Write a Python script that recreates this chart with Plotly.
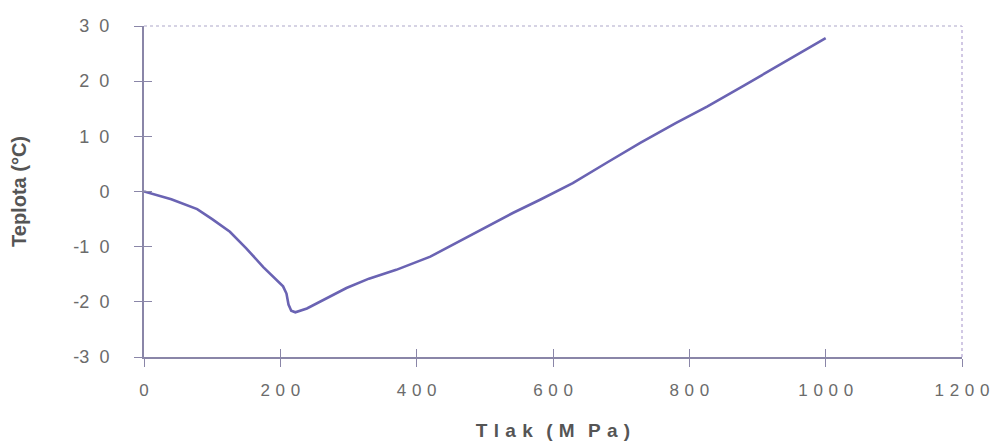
import plotly.graph_objects as go

# Data
pressure_mpa = [0, 40, 78, 100, 126, 150, 175, 195, 204, 209, 212, 216, 222, 239,
                270, 297, 330, 370, 420, 460, 493, 541, 581, 605, 629, 680, 728,
                780, 826, 880, 923, 1000]
temperature_c = [0, -1.4, -3.2, -5.0, -7.3, -10.3, -13.7, -16.2, -17.2, -18.5, -20.5,
                 -21.6, -21.9, -21.2, -19.3, -17.5, -15.8, -14.2, -11.8, -9.2, -7.0,
                 -3.9, -1.5, 0.0, 1.5, 5.3, 8.8, 12.4, 15.4, 19.2, 22.3, 27.8]

x_tick_vals = [0, 200, 400, 600, 800, 1000, 1200]
x_tick_text = ["0", "2 0 0", "4 0 0", "6 0 0", "8 0 0", "1 0 0 0", "1 2 0 0"]
y_tick_vals = [-30, -20, -10, 0, 10, 20, 30]
y_tick_text = ["-3 0", "-2 0", "-1 0", "0", "1 0", "2 0", "3 0"]
# mimic the letter-spaced digits of the original with wide unicode spaces
x_tick_text = [t.replace(" ", "\u2004") for t in x_tick_text]
y_tick_text = [t.replace(" ", "\u2007") for t in y_tick_text]

G = "\u2004"        # three-per-em space between letters
W = "\u2002\u2009"  # wider gap between words
x_title = "T" + G + "l" + G + "a" + G + "k" + W + "(" + G + "M" + W + "P" + G + "a" + G + ")"
y_title = "Teplota (°C)"

line_col = "#6a63b3"
axis_col = "#8a86a8"
label_col = "#6b6b6b"
title_col = "#555555"

fig = go.Figure()
fig.add_trace(go.Scatter(x=pressure_mpa, y=temperature_c, mode="lines",
                         line=dict(color=line_col, width=2.6),
                         showlegend=False, hoverinfo="x+y"))
# helper trace so the overlay axes (inside half of the crossing ticks) are drawn
fig.add_trace(go.Scatter(x=pressure_mpa, y=temperature_c, mode="markers",
                         xaxis="x2", yaxis="y2", marker=dict(opacity=0, size=1),
                         showlegend=False, hoverinfo="skip"))

font_family = "Liberation Sans, Arial, sans-serif"

fig.update_layout(
    width=994, height=445,
    margin=dict(l=144, r=32, t=26, b=88, autoexpand=False),
    paper_bgcolor="white", plot_bgcolor="white",
    xaxis=dict(range=[0, 1200], tickvals=x_tick_vals, ticktext=x_tick_text,
               ticks="outside", ticklen=8, tickwidth=1.2, tickcolor=axis_col,
               showline=True, linecolor=axis_col, linewidth=2,
               showgrid=False, zeroline=False,
               tickfont=dict(family=font_family, size=17, color=label_col),
               ticklabelstandoff=9, ticklabeloverflow="allow",
               title=dict(text=x_title, standoff=24,
                          font=dict(family=font_family, size=19, color=title_col,
                                    weight="bold"))),
    yaxis=dict(range=[-30, 30], tickvals=y_tick_vals, ticktext=y_tick_text,
               ticks="outside", ticklen=8, tickwidth=1.2, tickcolor=axis_col,
               showline=True, linecolor=axis_col, linewidth=2,
               showgrid=False, zeroline=False,
               tickfont=dict(family=font_family, size=18, color=label_col),
               ticklabelstandoff=21, ticklabeloverflow="allow",
               title=dict(text=y_title, standoff=41,
                          font=dict(family=font_family, size=20, color=title_col,
                                    weight="bold"))),
    xaxis2=dict(range=[0, 1200], tickvals=x_tick_vals, overlaying="x",
                anchor="y2", side="bottom",
                ticks="inside", ticklen=8, tickwidth=1.2, tickcolor=axis_col,
                showticklabels=False, showgrid=False, zeroline=False, showline=False),
    yaxis2=dict(range=[-30, 30], tickvals=y_tick_vals, overlaying="y",
                anchor="x2", side="left",
                ticks="inside", ticklen=8, tickwidth=1.2, tickcolor=axis_col,
                showticklabels=False, showgrid=False, zeroline=False, showline=False),
    shapes=[
        dict(type="line", xref="x domain", yref="y domain", x0=0, x1=1, y0=1, y1=1,
             line=dict(color="#c9c5dc", width=1.5, dash="dot"), layer="below"),
        dict(type="line", xref="x domain", yref="y domain", x0=1, x1=1, y0=0, y1=1,
             line=dict(color="#c2b6dc", width=1.5, dash="dot"), layer="below"),
    ],
)

# remove the browser's default 8px page margin so the 994x445 figure fills the window
page_fix = "document.body.style.margin='0';document.body.style.overflow='hidden';"
fig.write_html("out.html", post_script=page_fix, config={"displayModeBar": False})
